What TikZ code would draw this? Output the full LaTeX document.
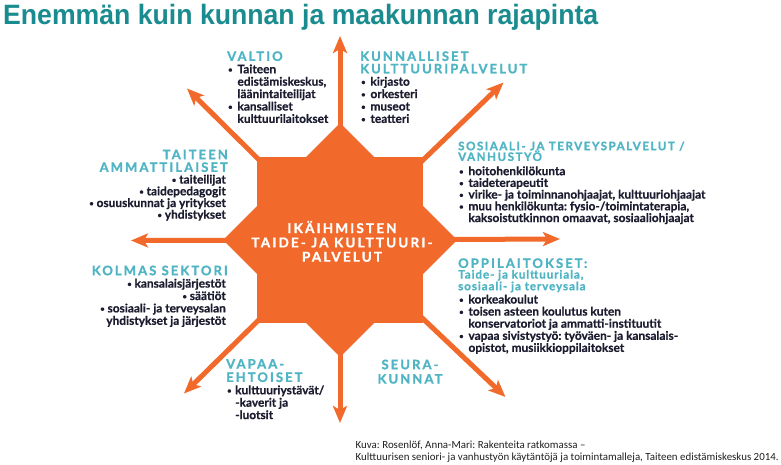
\documentclass[tikz,border=0pt]{standalone}
\usepackage{fontspec}
\setmainfont{Lato}
\newfontfamily\titlefont{Liberation Sans}
\newfontfamily\capfont{Carlito}
\usetikzlibrary{arrows.meta}
\definecolor{orng}{HTML}{F26A2B}
\definecolor{titlec}{HTML}{1A8B8E}
\definecolor{headc}{HTML}{4FB5C4}
\definecolor{bodyc}{HTML}{1C1C30}
\newcommand\bodyfont{\fontsize{11.9}{12.4}\selectfont\bfseries\addfontfeatures{FakeBold=0.6}}
\newcommand\hdf{\fontsize{13}{12.4}\selectfont\bfseries\addfontfeatures{LetterSpace=16,FakeBold=1.2}\color{headc}}
\newcommand\hds{\fontsize{11.6}{12.4}\selectfont\bfseries\addfontfeatures{LetterSpace=13,FakeBold=1.2}\color{headc}}
\newcommand\hdl{\fontsize{11.6}{12.4}\selectfont\bfseries\addfontfeatures{LetterSpace=8,FakeBold=1.2}\color{headc}}
\newcommand\bul{\raisebox{1pt}{\fontsize{7.5}{7.5}\selectfont\textbullet}}
\newcommand\bl{\makebox[10.3pt][l]{\hspace*{1pt}\bul}}
\newcommand\ind{\hspace*{10.3pt}}
\newcommand\fl{\rule{0pt}{10pt}}
\begin{document}
\frenchspacing
\begin{tikzpicture}[x=1pt,y=-1pt,
  arr/.style={draw=orng, line width=5pt, -{Stealth[length=17pt,width=14pt,inset=4pt]}},
  blk/.style={inner sep=0pt, font=\bodyfont, text=bodyc, align=left},
  blkr/.style={blk, align=right},
  ctrtext/.style={inner sep=0pt, align=center, text=white,
    font={\fontsize{13.5}{14.3}\selectfont\bfseries\addfontfeatures{LetterSpace=16,FakeBold=1.2}}},
  ttl/.style={inner sep=0pt, text=titlec, font={\titlefont\bfseries\fontsize{28}{30}\selectfont}},
  captxt/.style={inner sep=0pt, align=left, text=black!88, font={\capfont\fontsize{10.9}{12.4}\selectfont}}]
\useasboundingbox (0,0) rectangle (781,465);
\fill[white] (0,0) rectangle (781,465);
% centre and tips
\coordinate (c) at (340,240);
\coordinate (tN) at (340,36);
\coordinate (tS) at (340,423);
\coordinate (tE) at (560,239);
\coordinate (tW) at (131,240.5);
\coordinate (tNE) at (503.5,82.5);
\coordinate (tNW) at (187,88.5);
\coordinate (tSW) at (184,393.5);
\coordinate (tSE) at (505.5,397);
\foreach \t in {tN,tS,tE,tW,tNE,tNW,tSW,tSE}{\draw[arr] (c) -- (\t);}
% star
\fill[orng] (257,157) rectangle (423,323);
\fill[orng] (340,123) -- (457,240) -- (340,357) -- (223,240) -- cycle;
\node[ctrtext, anchor=north] (ctr) at (342,220.7) {\fl IKÄIHMISTEN\\TAIDE- JA KULTTUURI-\\PALVELUT};
% title
\node[ttl, anchor=base west] (title) at (3,25) {\resizebox{595pt}{\height}{Enemmän kuin kunnan ja maakunnan rajapinta}};
% blocks
\node[blk, anchor=north west] (valtio) at (227,50.7) {\fl{\hdf VALTIO}\\ \bl Taiteen\\ \ind edistämiskeskus,\\ \ind läänintaiteilijat\\ \bl kansalliset\\ \ind kulttuurilaitokset};
\node[blk, anchor=north west] (kunn) at (360,50.7) {\fl{\hdf KUNNALLISET}\\{\hdf KULTTUURIPALVELUT}\\ \bl kirjasto\\ \bl orkesteri\\ \bl museot\\ \bl teatteri};
\node[blk, anchor=north west, font={\fontsize{11.9}{11.7}\selectfont\bfseries\addfontfeatures{FakeBold=0.6}}] (sos) at (458,140) {\fl{\hds SOSIAALI- JA TERVEYSPALVELUT /}\\[-1pt]{\hds VANHUSTYÖ}\\[2.6pt] \bl hoitohenkilökunta\\ \bl taideterapeutit\\ \bl virike- ja toiminnanohjaajat, kulttuuriohjaajat\\ \bl muu henkilökunta: fysio-/toimintaterapia,\\ \ind kaksoistutkinnon omaavat, sosiaaliohjaajat};
\node[blk, anchor=north west, font={\fontsize{11.9}{12.1}\selectfont\bfseries\addfontfeatures{FakeBold=0.6}}] (oppi) at (458,257.7) {\fl{\hdf OPPILAITOKSET:}\\[-1.5pt]{\hdl Taide- ja kulttuuriala,}\\[-0.4pt]{\hdl sosiaali- ja terveysala}\\[1.2pt] \bl korkeakoulut\\ \bl toisen asteen koulutus kuten\\ \ind konservatoriot ja ammatti-instituutit\\ \bl vapaa sivistystyö: työväen- ja kansalais-\\ \ind opistot, musiikkioppilaitokset};
\node[blkr, anchor=north east, font={\fontsize{11.9}{11.7}\selectfont\bfseries\addfontfeatures{FakeBold=0.6}}] (taiteen) at (226,149) {\fl{\hdf TAITEEN\kern-2pt}\\[1pt]{\hdf AMMATTILAISET\kern-2pt}\\ \bul\ taiteilijat\\ \bul\ taidepedagogit\\ \bul\ osuuskunnat ja yritykset\\ \bul\ yhdistykset};
\node[blkr, anchor=north east] (kolmas) at (226,265) {\fl{\hdf KOLMAS SEKTORI\kern-2pt}\\ \bul\ kansalaisjärjestöt\\ \bul\ säätiöt\\ \bul\ sosiaali- ja terveysalan\\ yhdistykset ja järjestöt};
\node[blk, anchor=north west] (vapaa) at (226,358.3) {\fl{\hdf VAPAA-}\\[1pt]{\hdf EHTOISET}\\ \makebox[9pt][l]{\hspace*{1pt}\bul}kulttuuriystävät/\\ \hspace*{9pt}-kaverit ja\\ \hspace*{9pt}-luotsit};
\node[blk, anchor=north, align=center] (seura) at (410,359) {\fl{\hdf SEURA-}\\[1.9pt]{\hdf KUNNAT}};
% caption
\node[captxt, anchor=north west] (caption) at (355.5,438.3) {\fl Kuva: Rosenlöf, Anna-Mari: Rakenteita ratkomassa –\\Kulttuurisen seniori- ja vanhustyön käytäntöjä ja toimintamalleja, Taiteen edistämiskeskus 2014.};
\end{tikzpicture}
\end{document}
